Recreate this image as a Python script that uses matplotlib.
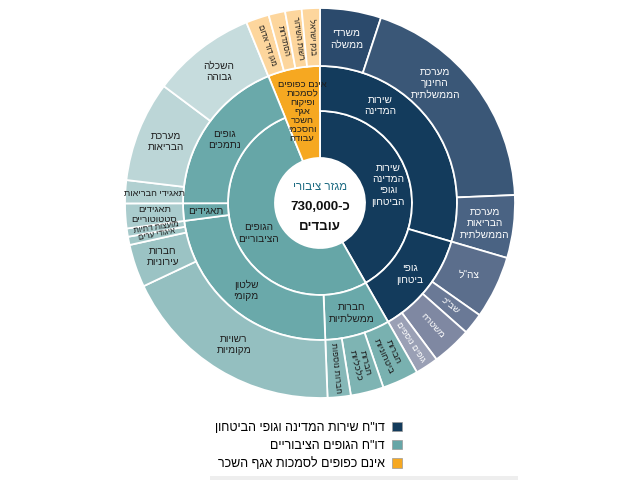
import re
import numpy as np
import matplotlib.pyplot as plt
from matplotlib.patches import Patch, Rectangle

plt.rcParams['font.family'] = ['Liberation Sans', 'DejaVu Sans']

# inner ring (thousands of employees)
inner_labels = ["שירות\nהמדינה\nוגופי\nהביטחון", "הגופים\nהציבוריים",
                "אינם כפופים\nלסמכות\nופיקוח\nאגף\nהשכר\nוהסכמי\nעבודה"]
inner_values = [305, 381, 45]

# middle ring
mid_labels = ["שירות\nהמדינה", "גופי\nביטחון", "חברות\nממשלתיות", "שלטון\nמקומי",
              "תאגידים", "גופים\nנתמכים", ""]
mid_values = [216, 89, 56, 172, 15, 138, 45]

# outer ring
outer_labels = ["משרדי\nממשלה", "מערכת\nהחינוך\nהממשלתית", "מערכת\nהבריאות\nהממשלתית",
                'צה"ל', 'שב"כ', "משטרה", "גופים נוספים",
                "חברות\nביטחוניות", "חברות\nכלכליות", "חברות נוספות",
                "רשויות\nמקומיות", "חברות\nעירוניות", "איגודי ערים", "מועצות דתיות",
                "תאגידים\nסטטוטוריים", "תאגידי הבריאות", "מערכת\nהבריאות", "השכלה\nגבוהה",
                "מגן דוד אדום", "הסתדרות", "רשות השידור", "בנק ישראל"]
outer_values = [37, 141, 38, 38, 13, 24, 14,
                22, 20, 14, 136, 26, 5, 5, 15, 14, 61, 63,
                14, 10, 10, 11]

legend_labels = ['דו"ח שירות המדינה וגופי הביטחון', 'דו"ח הגופים הציבוריים',
                 "אינם כפופים לסמכות אגף השכר"]

NAVY = "#133b5c"
TEAL = "#66a6a7"
ORANGE = "#f6a821"

inner_colors = [NAVY, TEAL, ORANGE]
mid_colors = [NAVY, NAVY, "#6aa9aa", "#6aa9aa", "#6aa9aa", "#6aa9aa", ORANGE]
outer_colors = ["#2b4a6c", "#3a5777", "#4a6383", "#5b6e8c", "#6a7996", "#7f88a2", "#9aa0b5",
                "#79b1b0", "#7eb4b3", "#86b8b8", "#94bfc0", "#9bc3c4", "#a1c7c7", "#a5c9ca",
                "#aacccd", "#b1d0d1", "#bcd6d7", "#c6dcdd",
                "#fdd69d", "#fdd69d", "#fdd69d", "#fdd69d"]

# which labels are written along the radius
outer_radial = [False, False, False, False, True, True, True,
                True, True, True, False, False, True, True, False, False, False, False,
                True, True, True, True]
small = {12: 5.8, 13: 5.8, 14: 6.8, 15: 6.6, 18: 5.8, 19: 5.8, 20: 5.8, 21: 5.8,
         4: 6.8, 5: 6.8, 6: 6.2, 7: 6.8, 8: 6.8, 9: 6.2}


def rtl(s):
    lines = []
    for line in s.split("\n"):
        parts = re.findall(r"[0-9][0-9,.]*|[^0-9]+", line)
        lines.append("".join(p if p[0].isdigit() else p[::-1] for p in reversed(parts)))
    return "\n".join(lines)


fig = plt.figure(figsize=(6.4, 4.8), dpi=100)
ax = fig.add_axes([0, 0, 1, 1])

cx, cy = 320, 277
R0, R1, R2, R3 = 45, 92, 137, 195
wp = dict(edgecolor="white", linewidth=1.3)

w_in, _ = ax.pie(inner_values, colors=inner_colors, radius=R1, center=(cx, cy),
                 startangle=90, counterclock=False,
                 wedgeprops=dict(width=R1 - R0, **wp))
w_mid, _ = ax.pie(mid_values, colors=mid_colors, radius=R2, center=(cx, cy),
                  startangle=90, counterclock=False,
                  wedgeprops=dict(width=R2 - R1, **wp))
w_out, _ = ax.pie(outer_values, colors=outer_colors, radius=R3, center=(cx, cy),
                  startangle=90, counterclock=False,
                  wedgeprops=dict(width=R3 - R2, **wp))

# orange slice spans the two inner rings
w_in[2].set_radius(R2)
w_in[2].set_width(R2 - R0)
w_mid[6].set_visible(False)


def put(wedge, text, r, color, size, radial=False, frac=0.5, ls=1.15):
    a = wedge.theta2 + (wedge.theta1 - wedge.theta2) * frac
    x = cx + r * np.cos(np.radians(a))
    y = cy + r * np.sin(np.radians(a))
    rot = 0
    if radial:
        rot = a % 360
        if rot > 180:
            rot -= 360
        if rot > 90:
            rot -= 180
        elif rot <= -90:
            rot += 180
    ax.text(x, y, rtl(text), ha="center", va="center", rotation=rot,
            rotation_mode="anchor", color=color, fontsize=size,
            multialignment="center", linespacing=ls)


DARK = "#1e1e1e"
put(w_in[0], inner_labels[0], (R0 + R1) / 2 + 2, "white", 7.3)
put(w_in[1], inner_labels[1], (R0 + R1) / 2, DARK, 7.3)
put(w_in[2], inner_labels[2], (R0 + R2) / 2 + 2, DARK, 6.8, ls=1.0)

for i, lab in enumerate(mid_labels):
    if lab:
        col = "white" if i < 2 else DARK
        put(w_mid[i], lab, (R1 + R2) / 2, col, 7.3, frac=0.3 if i == 0 else 0.5)

for i, lab in enumerate(outer_labels):
    col = "white" if i < 7 else DARK
    fr = 0.37 if i == 1 else 0.5
    put(w_out[i], lab, (R2 + R3) / 2, col, small.get(i, 7.3), outer_radial[i], frac=fr)

# centre text
ax.text(cx, cy + 16, rtl("מגזר ציבורי"), ha="center", va="center",
        color="#1d6b82", fontsize=8.3)
ax.text(cx, cy - 4, rtl("כ-730,000"), ha="center", va="center",
        color="#111111", fontsize=9.5, fontweight="bold")
ax.text(cx, cy - 24, rtl("עובדים"), ha="center", va="center",
        color="#111111", fontsize=9.5, fontweight="bold")

handles = [Patch(facecolor=c, edgecolor="#9a9a9a", linewidth=0.5)
           for c in [NAVY, TEAL, ORANGE]]
ax.legend(handles, [rtl(t) for t in legend_labels], loc="upper right",
          bbox_to_anchor=(408, 480 - 416), bbox_transform=ax.transData,
          markerfirst=False, frameon=False, fontsize=9,
          handlelength=0.75, handleheight=0.75, handletextpad=0.6,
          labelspacing=0.45, borderpad=0)

ax.add_patch(Rectangle((210, 0), 308, 4, facecolor="#eeeeee", edgecolor="none"))

ax.set_xlim(0, 640)
ax.set_ylim(0, 480)
ax.set_aspect("equal")
ax.axis("off")
fig.savefig("out.png", dpi=100)
